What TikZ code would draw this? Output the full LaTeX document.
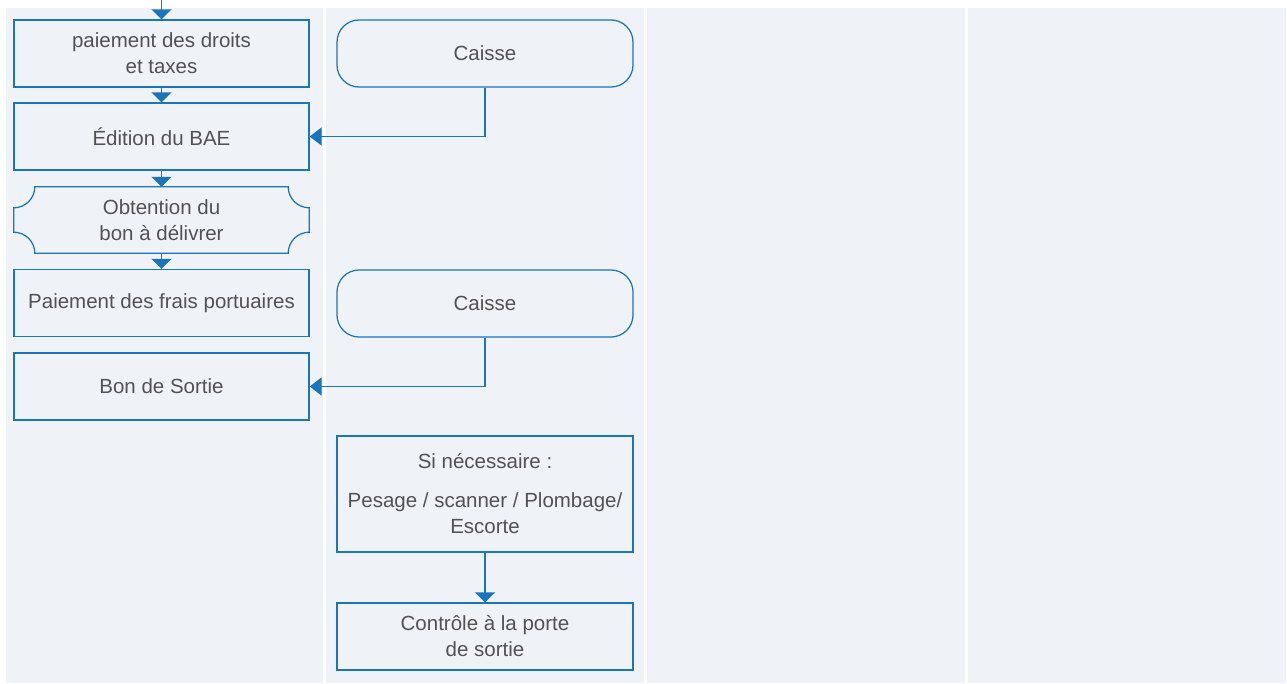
\documentclass[tikz,border=0pt]{standalone}
\usepackage{fontspec}
\setmainfont{Liberation Sans}
\usetikzlibrary{arrows.meta,calc}
\definecolor{colbg}{RGB}{239,242,247}
\definecolor{lineblue}{RGB}{27,117,187}
\definecolor{txt}{RGB}{82,82,82}
\tikzset{
  boxline/.style={draw=lineblue, line width=1.25pt},
  flowbox/.style={boxline, minimum width=295pt, minimum height=67pt, align=center, inner sep=2pt,
    font=\fontsize{20.5}{26}\selectfont, text=txt},
  plainbox/.style={minimum width=295pt, minimum height=66pt, align=center, inner sep=2pt,
    font=\fontsize{20.5}{26}\selectfont, text=txt},
  roundbox/.style={flowbox, rounded corners=22pt, minimum width=296pt},
  flowarrow/.style={draw=lineblue, line width=1.25pt, -{Triangle[width=20pt,length=10pt,fill=lineblue]}},
  sidearrow/.style={draw=lineblue, line width=1.25pt, -{Triangle[width=18pt,length=12pt,fill=lineblue]}}
}
\begin{document}
\begin{tikzpicture}[x=1pt,y=-1pt]
\useasboundingbox (0,0) rectangle (1287,683);
% columns
\fill[colbg] (6,8) rectangle (323,683);
\fill[colbg] (326,8) rectangle (644,683);
\fill[colbg] (647,8) rectangle (965,683);
\fill[colbg] (968,8) rectangle (1286,683);

% column 1
\coordinate (top) at (161.5,0);
\node[flowbox] (b1) at (161.5,53.5) {paiement des droits\\et taxes};
\node[flowbox] (b2) at (161.5,136.5) {Édition du BAE};
\node[plainbox] (b3) at (161.5,220) {Obtention du\\bon à délivrer};
\draw[boxline]
  ([xshift=21pt]b3.north west) -- ([xshift=-21pt]b3.north east)
  .. controls ([xshift=-21pt,yshift=-11.6pt]b3.north east) and ([xshift=-11.6pt,yshift=-21pt]b3.north east) .. ([yshift=-21pt]b3.north east)
  -- ([yshift=21pt]b3.south east)
  .. controls ([xshift=-11.6pt,yshift=21pt]b3.south east) and ([xshift=-21pt,yshift=11.6pt]b3.south east) .. ([xshift=-21pt]b3.south east)
  -- ([xshift=21pt]b3.south west)
  .. controls ([xshift=21pt,yshift=11.6pt]b3.south west) and ([xshift=11.6pt,yshift=21pt]b3.south west) .. ([yshift=21pt]b3.south west)
  -- ([yshift=-21pt]b3.north west)
  .. controls ([xshift=11.6pt,yshift=-21pt]b3.north west) and ([xshift=21pt,yshift=-11.6pt]b3.north west) .. ([xshift=21pt]b3.north west)
  -- cycle;
\node[flowbox] (b4) at (161.5,303) {Paiement des frais portuaires};
\node[flowbox] (b5) at (161.5,386.5) {Bon de Sortie};

% column 2
\node[roundbox] (c1) at (485,53.5) {Caisse};
\node[roundbox] (c2) at (485,303.5) {Caisse};
\node[flowbox, minimum width=296pt, minimum height=116pt] (si) at (485,494)
  {Si nécessaire :\\[13pt]Pesage / scanner / Plombage/\\Escorte};
\node[flowbox, minimum width=296pt] (ct) at (485,636.5) {Contrôle à la porte\\de sortie};

% connectors
\draw[flowarrow] (top) -- (b1.north);
\draw[flowarrow] (b1.south) -- (b2.north);
\draw[flowarrow] (b2.south) -- (b3.north);
\draw[flowarrow] (b3.south) -- (b4.north);
\draw[sidearrow] (c1.south) |- (b2.east);
\draw[sidearrow] (c2.south) |- (b5.east);
\draw[flowarrow] (si.south) -- (ct.north);
\end{tikzpicture}
\end{document}
